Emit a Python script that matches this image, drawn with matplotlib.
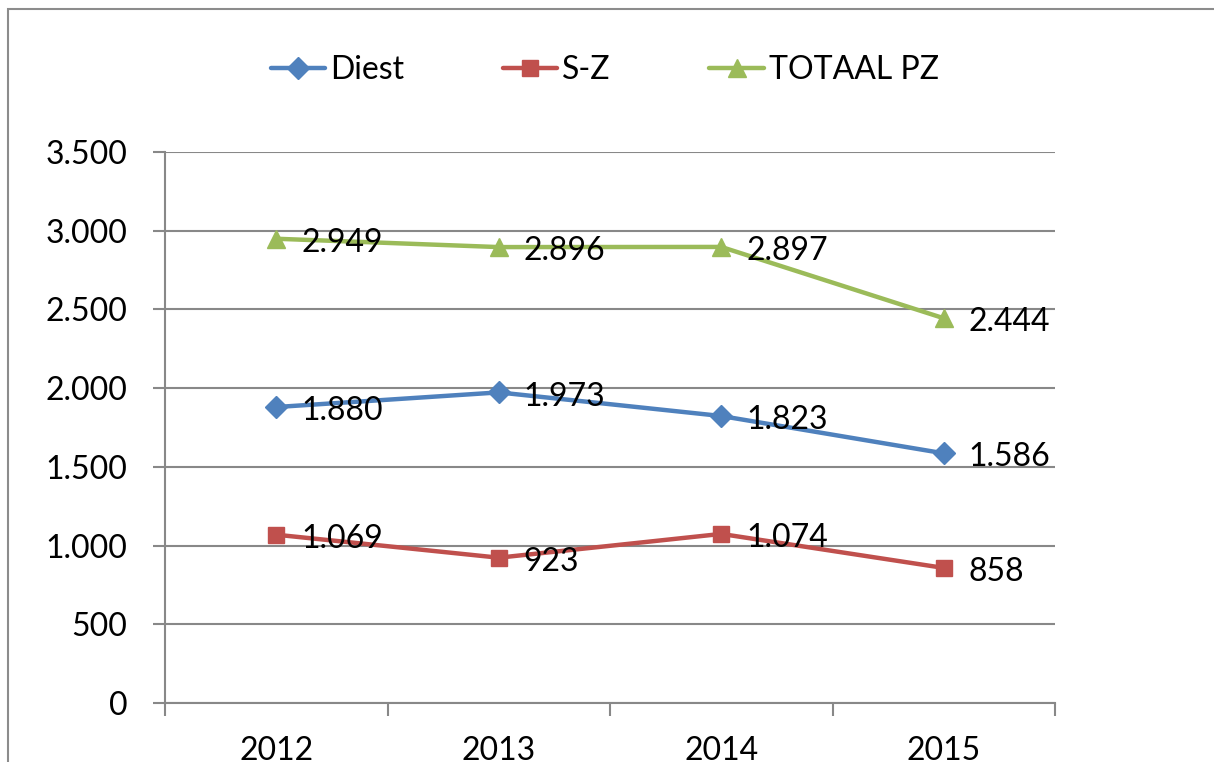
import matplotlib.pyplot as plt
from matplotlib.patches import Rectangle

years = ['2012', '2013', '2014', '2015']
diest = [1880, 1973, 1823, 1586]
sz = [1069, 923, 1074, 858]
totaal = [2949, 2896, 2897, 2444]

plt.rcParams['font.family'] = ['Lato', 'DejaVu Sans']

fig = plt.figure(figsize=(12.14, 7.62), dpi=100)
ax = fig.add_axes([165 / 1214, 1 - 703 / 762, 890 / 1214, 551 / 762])

# frame around the chart, like the Excel chart area
fig.patches.append(Rectangle((8 / 1214, -0.1), 1.2, 1 - 9 / 762 + 0.1,
                             transform=fig.transFigure, fill=False,
                             edgecolor='#8c8c8c', linewidth=1.5))

x = range(len(years))
series = [
    (diest, 'Diest', '#4F81BD', 'D', 11),
    (sz, 'S-Z', '#C0504D', 's', 12),
    (totaal, 'TOTAAL PZ', '#9BBB59', '^', 13),
]
for vals, name, col, mk, ms in series:
    ax.plot(x, vals, color=col, lw=3.2, marker=mk, ms=ms, label=name,
            solid_capstyle='round')
    for xi, v in zip(x, vals):
        ax.annotate(f'{v:,}'.replace(',', '.'), (xi, v), xytext=(18, -3),
                    textcoords='offset points', ha='left', va='center',
                    fontsize=23, color='black')

ax.set_xlim(-0.5, 3.5)
ax.set_ylim(0, 3500)
ax.set_yticks(range(0, 3501, 500))
ax.set_yticklabels([f'{v:,}'.replace(',', '.') for v in range(0, 3501, 500)])
ax.set_xticks(list(x))
ax.set_xticklabels(years)
ax.set_xticks([-0.5, 0.5, 1.5, 2.5, 3.5], minor=True)

ax.grid(axis='y', color='#888888', lw=1.5)
ax.set_axisbelow(True)
for s in ['top', 'right']:
    ax.spines[s].set_visible(False)
for s in ['left', 'bottom']:
    ax.spines[s].set_color('#888888')
    ax.spines[s].set_linewidth(1.5)

ax.tick_params(axis='y', length=9, width=1.5, color='#888888', pad=18,
               labelsize=23)
ax.tick_params(axis='x', which='major', length=0, pad=24, labelsize=23)
ax.tick_params(axis='x', which='minor', length=9, width=1.5, color='#888888')

fig.legend(loc='center', bbox_to_anchor=(0.498, 0.908), ncol=3, frameon=False,
           fontsize=23, handlelength=1.7, handletextpad=0.15,
           columnspacing=3.1)

fig.savefig('out.png', dpi=100)
